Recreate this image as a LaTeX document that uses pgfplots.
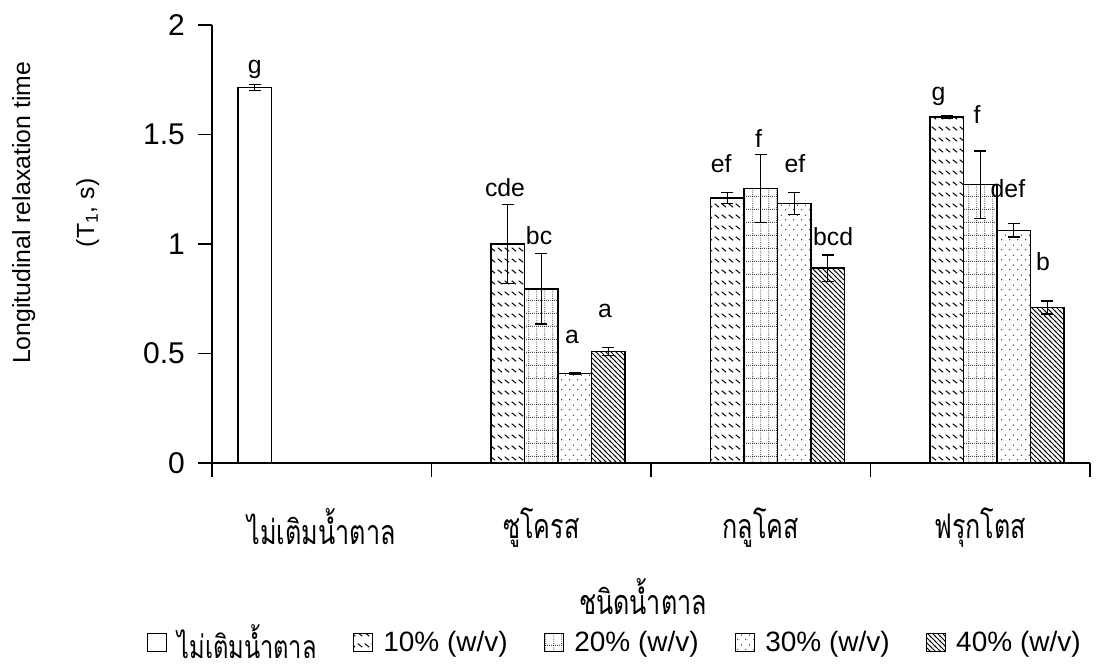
\documentclass[border=0pt]{standalone}
\usepackage{fontspec}
\setmainfont{Liberation Sans}
\newfontfamily\thai[Script=Thai, FakeStretch=0.74]{Loma}
\usepackage{pgfplots}
\pgfplotsset{compat=1.18}
\usetikzlibrary{patterns}

\pgfdeclarepatternformonly{dashnw}{\pgfqpoint{0pt}{0pt}}{\pgfqpoint{3.5pt}{5.5pt}}{\pgfqpoint{3.5pt}{5.5pt}}{%
  \pgfsetlinewidth{0.55pt}%
  \pgfpathmoveto{\pgfqpoint{0.4pt}{3.4pt}}%
  \pgfpathlineto{\pgfqpoint{2.9pt}{1.5pt}}%
  \pgfusepath{stroke}}
\pgfdeclarepatternformonly{dotgrid}{\pgfqpoint{0pt}{0pt}}{\pgfqpoint{4.2pt}{6.3pt}}{\pgfqpoint{4.2pt}{6.3pt}}{%
  \pgfsetlinewidth{0.45pt}%
  \pgfsetdash{{0.4pt}{0.7pt}}{0pt}%
  \pgfpathmoveto{\pgfqpoint{0.4pt}{0pt}}\pgfpathlineto{\pgfqpoint{0.4pt}{6.3pt}}%
  \pgfpathmoveto{\pgfqpoint{0pt}{0.4pt}}\pgfpathlineto{\pgfqpoint{4.2pt}{0.4pt}}%
  \pgfusepath{stroke}}
\pgfdeclarepatternformonly{dotsb}{\pgfqpoint{0pt}{0pt}}{\pgfqpoint{4pt}{5pt}}{\pgfqpoint{4pt}{5pt}}{%
  \pgfpathcircle{\pgfqpoint{1pt}{1.25pt}}{0.35pt}%
  \pgfpathcircle{\pgfqpoint{3pt}{3.75pt}}{0.35pt}%
  \pgfusepath{fill}}
\pgfdeclarepatternformonly{densenw}{\pgfqpoint{-0.5pt}{-0.5pt}}{\pgfqpoint{3pt}{3pt}}{\pgfqpoint{2.5pt}{2.5pt}}{%
  \pgfsetlinewidth{0.5pt}%
  \pgfpathmoveto{\pgfqpoint{-0.5pt}{3pt}}%
  \pgfpathlineto{\pgfqpoint{3pt}{-0.5pt}}%
  \pgfusepath{stroke}}

% x positions: category centre + slot offset (bar width 0.1526)
\pgfplotstableread{
x y e
-0.3052 1.715 0.015
}\tctrl
\pgfplotstableread{
x y e
0.8474 1.00 0.18
1.8474 1.21 0.025
2.8474 1.58 0.006
}\tten
\pgfplotstableread{
x y e
1 0.795 0.16
2 1.255 0.155
3 1.27 0.155
}\ttwenty
\pgfplotstableread{
x y e
1.1526 0.41 0.005
2.1526 1.185 0.05
3.1526 1.062 0.03
}\tthirty
\pgfplotstableread{
x y e
1.3052 0.51 0.018
2.3052 0.89 0.06
3.3052 0.71 0.03
}\tforty
\pgfplotstableread{
x y label
-0.305 1.78 g
0.835 1.217 cde
0.99 0.997 bc
1.14 0.544 a
1.29 0.663 a
1.82 1.328 ef
1.99 1.442 f
2.156 1.328 ef
2.33 0.993 bcd
2.81 1.656 g
2.985 1.55 f
3.126 1.212 def
3.286 0.878 b
}\tlabels

\begin{document}
\begin{tikzpicture}
\path[use as bounding box] (0,0) rectangle (550.5pt,335.5pt);
\begin{axis}[
  at={(106pt,104pt)}, anchor=south west,
  scale only axis, width=439pt, height=219pt,
  xmin=-0.5, xmax=3.5, ymin=0, ymax=2,
  clip=false,
  axis x line=bottom, axis y line=left,
  axis line style={-, line width=0.6pt, black},
  tick align=outside,
  major tick length=7pt,
  tick style={line width=0.6pt, black},
  ytick={0,0.5,1,1.5,2},
  yticklabel style={font=\fontsize{15}{18}\selectfont, xshift=-3pt},
  /pgf/number format/assume math mode=true,
  xtick={-0.5,0.5,1.5,2.5,3.5},
  xticklabels={},
  extra x ticks={0,1,2,3},
  extra x tick labels={ไม่เติมน้ำตาล,ซูโครส,กลูโคส,ฟรุกโตส},
  extra x tick style={major tick length=0pt,
    tick label style={font=\thai\fontsize{17}{20}\selectfont, yshift=-19pt}},
  xlabel={\thai ชนิดน้ำตาล},
  xlabel style={font=\fontsize{17}{20}\selectfont, at={(axis description cs:0.491,-0.305)}, anchor=center},
  ylabel={Longitudinal relaxation time\\[17pt](T\textsubscript{1}, s)},
  ylabel style={align=center, font=\fontsize{12.4}{15}\selectfont, at={(axis description cs:-0.178,0.571)}, anchor=center},
  legend columns=5,
  legend style={draw=none, fill=none, at={(axis description cs:0.46,-0.41)}, anchor=center,
    font=\fontsize{14}{16}\selectfont,
    /tikz/every even column/.append style={column sep=16pt}},
  legend image code/.code={\draw[#1, line width=0.5pt] (0pt,-4.7pt) rectangle (9.4pt,4.7pt); \path[draw=none, fill=none] (0pt,0pt) -- (13pt,0pt);},
]
\addplot[ybar, bar width=0.1526, bar shift=0, draw=black, fill=white, line width=0.6pt,
  error bars/.cd, y dir=both, y explicit,
  error bar style={line width=0.6pt, black},
  error mark options={rotate=90, line width=0.6pt, black, mark size=3pt}] table[x=x, y=y, y error=e] {\tctrl};
\addlegendentry{\thai\fontsize{16}{16}\selectfont ไม่เติมน้ำตาล}
\addplot[ybar, bar width=0.1526, bar shift=0, draw=black, pattern=dashnw, line width=0.6pt,
  error bars/.cd, y dir=both, y explicit,
  error bar style={line width=0.6pt, black},
  error mark options={rotate=90, line width=0.6pt, black, mark size=3pt}] table[x=x, y=y, y error=e] {\tten};
\addlegendentry{10\% (w/v)}
\addplot[ybar, bar width=0.1526, bar shift=0, draw=black, pattern=dotgrid, line width=0.6pt,
  error bars/.cd, y dir=both, y explicit,
  error bar style={line width=0.6pt, black},
  error mark options={rotate=90, line width=0.6pt, black, mark size=3pt}] table[x=x, y=y, y error=e] {\ttwenty};
\addlegendentry{20\% (w/v)}
\addplot[ybar, bar width=0.1526, bar shift=0, draw=black, pattern=dotsb, line width=0.6pt,
  error bars/.cd, y dir=both, y explicit,
  error bar style={line width=0.6pt, black},
  error mark options={rotate=90, line width=0.6pt, black, mark size=3pt}] table[x=x, y=y, y error=e] {\tthirty};
\addlegendentry{30\% (w/v)}
\addplot[ybar, bar width=0.1526, bar shift=0, draw=black, pattern=densenw, line width=0.6pt,
  error bars/.cd, y dir=both, y explicit,
  error bar style={line width=0.6pt, black},
  error mark options={rotate=90, line width=0.6pt, black, mark size=3pt}] table[x=x, y=y, y error=e] {\tforty};
\addlegendentry{40\% (w/v)}
\addplot[draw=none, mark=none, forget plot,
  nodes near coords, point meta=explicit symbolic,
  every node near coord/.append style={anchor=base, inner sep=0pt, font=\fontsize{12.4}{15}\selectfont, black}]
  table[x=x, y=y, meta=label] {\tlabels};
\end{axis}
\end{tikzpicture}
\end{document}
